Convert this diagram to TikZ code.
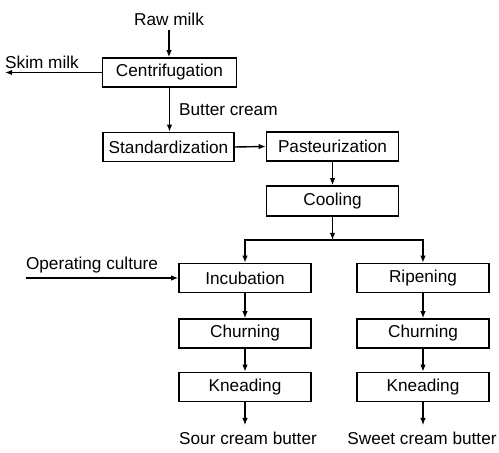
\documentclass[tikz,border=0pt]{standalone}
\usepackage{fontspec}
\setmainfont{Liberation Sans}
\usetikzlibrary{arrows.meta, positioning}
\tikzset{
  box/.style   = {draw, line width=0.7pt, minimum width=66pt, minimum height=14.5pt,
                  inner sep=0pt, font=\fontsize{8.6}{10}\selectfont},
  lbl/.style   = {inner sep=0pt, font=\fontsize{8.6}{10}\selectfont},
  arrow/.style = {-{Latex[length=3.6pt,width=2.8pt]}, line width=0.7pt},
}
\begin{document}
\begin{tikzpicture}[x=0.5pt, y=-0.5pt]
  \useasboundingbox (0,0) rectangle (499,453);
  % main line
  \node[lbl] (raw) at (169,19) {Raw milk};
  \node[box, minimum width=67pt] (centrif) at (169.5,72.5) {Centrifugation};
  \node[lbl] (skim) at (42,62) {Skim milk};
  \coordinate (skimend) at (5,72.5);
  \node[box, minimum width=65.5pt] (stand) at (168.5,147) {Standardization};
  \node[box] (past) at (332.5,146.5) {Pasteurization};
  \node[box, minimum height=15pt] (cool) at (332.5,201) {Cooling};
  \coordinate (split) at (332.5,240);
  % left branch: sour cream
  \node[box] (incub) at (245,278) {Incubation};
  \node[box] (churnA) at (245,333.5) {Churning};
  \node[box] (kneadA) at (245,387) {Kneading};
  \node[lbl] (sour) at (248,438) {Sour cream butter};
  \node[lbl] (culture) at (92,265) {Operating culture};
  \coordinate (cultstart) at (26,278);
  % right branch: sweet cream
  \node[box] (rip) at (423,278) {Ripening};
  \node[box] (churnB) at (423,333.5) {Churning};
  \node[box] (kneadB) at (423,387) {Kneading};
  \node[lbl] (sweet) at (422,438) {Sweet cream butter};

  \draw[arrow, shorten <=2pt] (raw.south) -- (raw.south |- centrif.north);
  \draw[arrow] (centrif.west) -- (skimend);
  \draw[arrow] (centrif.south) -- (centrif.south |- stand.north)
    node[lbl, anchor=west, pos=0.5, xshift=4.5pt] (cream) {Butter cream};
  \draw[arrow] (stand.east) -- (past.west);
  \draw[arrow] (past.south) -- (cool.north);
  \draw[arrow] (cool.south) -- (split);
  \draw[arrow] (split) -| (incub.north);
  \draw[arrow] (split) -| (rip.north);
  \draw[arrow] (cultstart) -- (incub.west);
  \draw[arrow] (incub) -- (churnA);
  \draw[arrow] (churnA) -- (kneadA);
  \draw[arrow] (kneadA.south) -- ++(0,23);
  \draw[arrow] (rip) -- (churnB);
  \draw[arrow] (churnB) -- (kneadB);
  \draw[arrow] (kneadB.south) -- ++(0,23);
\end{tikzpicture}
\end{document}
